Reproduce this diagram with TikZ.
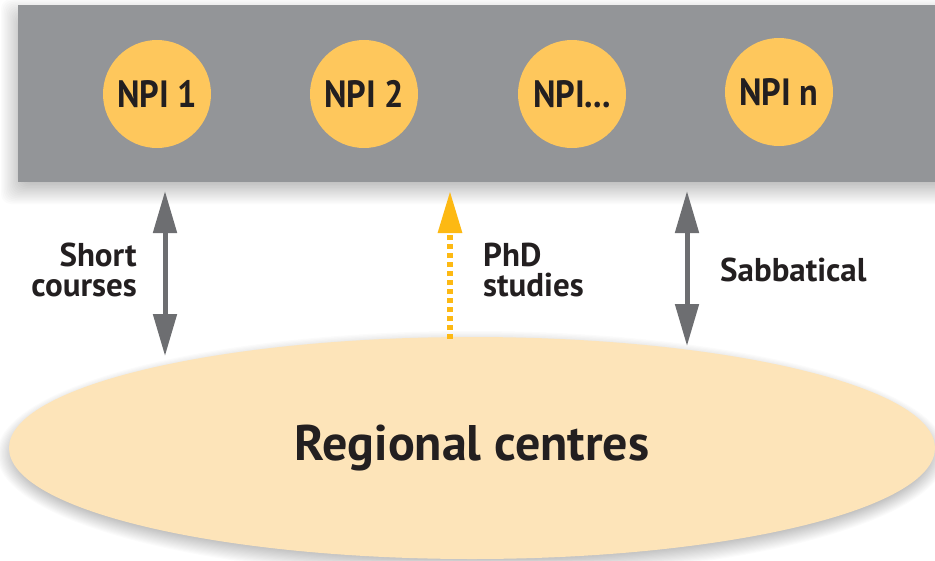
\documentclass[tikz,border=0pt]{standalone}
\usepackage{fontspec}
\setmainfont{PT Sans}
\newfontfamily\npifont{PT Sans}[FakeStretch=0.9]
\usetikzlibrary{arrows.meta,shapes.geometric}
\definecolor{bargray}{HTML}{939598}
\definecolor{npifill}{HTML}{FEC75C}
\definecolor{regionfill}{HTML}{FDE4B9}
\definecolor{arrgray}{HTML}{6D6E71}
\definecolor{phdorange}{HTML}{FDB913}
\definecolor{ink}{HTML}{231F20}
\tikzset{
  barbox/.style={rectangle, fill=bargray, draw=none, inner sep=0pt},
  shadowlayer/.style={fill=black, opacity=0.017, draw=none},
  npinode/.style={circle, fill=npifill, draw=none, minimum size=108pt, inner sep=0pt,
    text=ink, font=\npifont\bfseries\fontsize{38}{40}\selectfont},
  regionnode/.style={ellipse, fill=regionfill, draw=none, minimum width=926pt, minimum height=222pt, inner sep=0pt,
    text=ink, font=\bfseries\fontsize{50}{55}\selectfont},
  lbl/.style={text=ink, inner sep=0pt, font=\bfseries\fontsize{33}{30}\selectfont},
  grayarrow/.style={draw=arrgray, line width=5pt,
    {Triangle[length=42pt, width=23pt, fill=arrgray]}-{Triangle[length=42pt, width=23pt, fill=arrgray]}},
  phdarrow/.style={draw=phdorange, line width=6pt, dash pattern=on 5pt off 4pt,
    -{Triangle[length=42pt, width=23pt, fill=phdorange, sep=0pt]}},
}
\begin{document}
\begin{tikzpicture}[x=1pt,y=-1pt]
\fill[white] (0,0) rectangle (935,560);
\useasboundingbox (0,0) rectangle (935,560);
% soft shadow of the bar
\foreach \i in {0,...,19}{
  \pgfmathsetmacro\d{14-28*\i/19}
  \fill[shadowlayer, rounded corners=10pt] ({15-(\d)},{13-(\d)}) rectangle ({950+(\d)},{190+(\d)});
}
% soft shadow of the ellipse
\foreach \i in {0,...,19}{
  \pgfmathsetmacro\rx{463+12-24*\i/19}
  \pgfmathsetmacro\ry{111+12-24*\i/19}
  \fill[shadowlayer] (472,454) ellipse [x radius=\rx pt, y radius=\ry pt];
}
\node[barbox, minimum width=917pt, minimum height=177pt, anchor=north west] (bar) at (18,5) {};
\node[regionnode] (reg) at (472,448) {Regional centres};
\node[npinode] (n1) at (157,94) {NPI 1};
\node[npinode] (n2) at (364,94) {NPI 2};
\node[npinode] (n3) at (572,94) {NPI...};
\node[npinode] (n4) at (779,92) {NPI n};
\coordinate (a1t) at (165,191);
\coordinate (a1b) at (165,356);
\coordinate (a2t) at (450,191);
\coordinate (a2b) at (450,339);
\coordinate (a3t) at (687,191);
\coordinate (a3b) at (687,346);
\draw[grayarrow] (a1b) -- (a1t);
\draw[grayarrow] (a3b) -- (a3t);
\draw[phdarrow] (a2b) -- (a2t);
\node[lbl, align=right, anchor=east] (sc) at (137,270) {Short\\courses};
\node[lbl, align=left, anchor=west] (phd) at (483,270) {PhD\\studies};
\node[lbl, anchor=west] (sab) at (720,270) {Sabbatical};
\end{tikzpicture}
\end{document}
